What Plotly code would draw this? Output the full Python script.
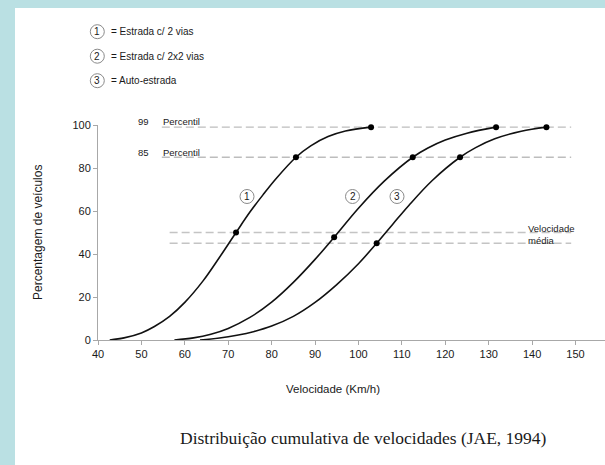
import plotly.graph_objects as go

# ---- data ----
curve1_x = [42.7, 46, 50, 53, 56.5, 60, 64.2, 68, 71.8, 75, 78, 81, 85.6, 89, 93, 97, 102.9]
curve1_y = [0, 1, 3.3, 6.3, 11, 17.5, 27.5, 38.5, 50, 59.5, 67.5, 75, 85, 90.3, 94.6, 97.2, 99]

curve2_x = [57.6, 62, 66, 70, 75, 80, 85, 90, 94.4, 100, 106, 112.5, 116, 120, 125, 131.7]
curve2_y = [0, 1, 2.7, 5.4, 10.5, 17.6, 26.8, 37.5, 47.8, 61.3, 74, 85, 89.3, 93, 96.2, 99]

curve3_x = [63.5, 68, 72, 76, 80, 85, 90, 95, 100, 104.2, 108, 111.6, 117, 123.4, 127, 131.4, 137.5, 143.3]
curve3_y = [0, 0.9, 2.2, 4, 6.5, 11, 17.5, 25.8, 35.5, 45, 54.1, 62.6, 74.2, 85, 89.5, 93.6, 97.1, 99]

dots1_x = [71.8, 85.6, 102.9]
dots1_y = [50, 85, 99]
dots2_x = [94.4, 112.5, 131.7]
dots2_y = [47.8, 85, 99]
dots3_x = [104.2, 123.4, 143.3]
dots3_y = [45, 85, 99]

percentile_levels = [99, 85]
mean_levels = [50, 45]

legend_labels = ["= Estrada c/ 2 vias", "= Estrada c/ 2x2 vias", "= Auto-estrada"]
curve_ids = ["1", "2", "3"]

x_ticks = [40, 50, 60, 70, 80, 90, 100, 110, 120, 130, 140, 150]
y_ticks = [0, 20, 40, 60, 80, 100]

# ---- layout geometry (pixels) ----
W, H = 605, 465
L, R, T, B = 98, 0, 125, 125
PW, PH = W - L - R, H - T - B


def xp(px):
    return (px - L) / PW


def yp(py):
    return (H - B - py) / PH


FONT = "Liberation Sans, Arial, sans-serif"
TXT = "#1a1a1a"

fig = go.Figure()

# dashed reference lines
for lvl in percentile_levels:
    fig.add_trace(go.Scatter(x=[54.7, 149], y=[lvl, lvl], mode="lines",
                             line=dict(color="#bdbdbd", width=1.4, dash="8px,4px"),
                             hoverinfo="skip", showlegend=False))
for lvl in mean_levels:
    fig.add_trace(go.Scatter(x=[56.5, 149], y=[lvl, lvl], mode="lines",
                             line=dict(color="#c4c4c4", width=1.4, dash="8px,4px"),
                             hoverinfo="skip", showlegend=False))

for cx, cy in [(curve1_x, curve1_y), (curve2_x, curve2_y), (curve3_x, curve3_y)]:
    fig.add_trace(go.Scatter(x=cx, y=cy, mode="lines",
                             line=dict(color="#111111", width=1.6, shape="spline", smoothing=1.0),
                             hoverinfo="skip", showlegend=False, cliponaxis=False))

for dx, dy in [(dots1_x, dots1_y), (dots2_x, dots2_y), (dots3_x, dots3_y)]:
    fig.add_trace(go.Scatter(x=dx, y=dy, mode="markers",
                             marker=dict(color="#000000", size=6),
                             hoverinfo="skip", showlegend=False, cliponaxis=False))

shapes = [
    dict(type="rect", xref="paper", yref="paper", x0=xp(15), x1=xp(610), y0=yp(470), y1=yp(8),
         fillcolor="white", line=dict(width=0), layer="below"),
]
annotations = []


def circled(px, py, label):
    shapes.append(dict(type="circle", xref="paper", yref="paper",
                       xsizemode="pixel", ysizemode="pixel",
                       xanchor=xp(px), yanchor=yp(py), x0=-7, x1=7, y0=-7, y1=7,
                       line=dict(color="#8a8a8a", width=1), fillcolor="rgba(0,0,0,0)"))
    annotations.append(dict(x=xp(px), y=yp(py), xref="paper", yref="paper", text=label,
                            showarrow=False, font=dict(family=FONT, size=10, color=TXT),
                            xanchor="center", yanchor="middle"))


# legend at top
for i, (cid, lab) in enumerate(zip(curve_ids, legend_labels)):
    py = 31.7 + i * 24.5
    circled(97.3, py, cid)
    annotations.append(dict(x=xp(109), y=yp(py), xref="paper", yref="paper", text=lab,
                            showarrow=False, font=dict(family=FONT, size=10, color=TXT),
                            xanchor="left", yanchor="middle"))

# in-plot circled labels
circled(247, 196.5, curve_ids[0])
circled(352.5, 196.5, curve_ids[1])
circled(397, 196.5, curve_ids[2])

# percentile labels
for lvl, py in zip(percentile_levels, [121.5, 152.0]):
    annotations.append(dict(x=xp(151), y=yp(py), xref="paper", yref="paper", text=str(lvl),
                            showarrow=False, font=dict(family=FONT, size=9.5, color=TXT),
                            xanchor="right", yanchor="middle"))
    annotations.append(dict(x=xp(161), y=yp(py), xref="paper", yref="paper", text="Percentil",
                            showarrow=False, font=dict(family=FONT, size=9.5, color=TXT),
                            xanchor="left", yanchor="middle"))

# Velocidade média
annotations.append(dict(x=xp(526), y=yp(228.5), xref="paper", yref="paper", text="Velocidade",
                        showarrow=False, font=dict(family=FONT, size=9.5, color=TXT),
                        xanchor="left", yanchor="middle"))
annotations.append(dict(x=xp(526), y=yp(240), xref="paper", yref="paper", text="média",
                        showarrow=False, font=dict(family=FONT, size=9.5, color=TXT),
                        xanchor="left", yanchor="middle"))

# axis titles
annotations.append(dict(x=xp(333), y=yp(389), xref="paper", yref="paper", text="Velocidade (Km/h)",
                        showarrow=False, font=dict(family=FONT, size=11.5, color=TXT),
                        xanchor="center", yanchor="middle"))
annotations.append(dict(x=xp(38), y=yp(233), xref="paper", yref="paper", text="Percentagem de veículos",
                        showarrow=False, textangle=-90, font=dict(family=FONT, size=12, color=TXT),
                        xanchor="center", yanchor="middle"))
# caption
annotations.append(dict(x=xp(363), y=yp(438), xref="paper", yref="paper",
                        text="Distribuição cumulativa de velocidades (JAE, 1994)",
                        showarrow=False, font=dict(family="Liberation Serif, Times New Roman, serif",
                                                   size=17.5, color=TXT),
                        xanchor="center", yanchor="middle"))

fig.update_layout(
    width=W, height=H,
    margin=dict(l=L, r=R, t=T, b=B),
    paper_bgcolor="#bae0e3",
    plot_bgcolor="white",
    shapes=shapes,
    annotations=annotations,
    showlegend=False,
    xaxis=dict(range=[40, 40 + PW / 4.341], tickvals=x_ticks, ticktext=[str(v) for v in x_ticks],
               showgrid=False, zeroline=False, showline=True, linecolor="#a8a8a8", linewidth=1,
               ticks="outside", ticklen=4, tickcolor="#a8a8a8",
               tickfont=dict(family=FONT, size=11, color=TXT)),
    yaxis=dict(range=[0, 100], tickvals=y_ticks, ticktext=[str(v) for v in y_ticks],
               showgrid=False, zeroline=False, showline=True, linecolor="#a8a8a8", linewidth=1,
               ticks="outside", ticklen=4, tickcolor="#a8a8a8",
               tickfont=dict(family=FONT, size=11, color=TXT)),
)

fig.write_html("out.html", config={"displayModeBar": False},
               post_script="document.body.style.margin='0';document.body.style.overflow='hidden';")
